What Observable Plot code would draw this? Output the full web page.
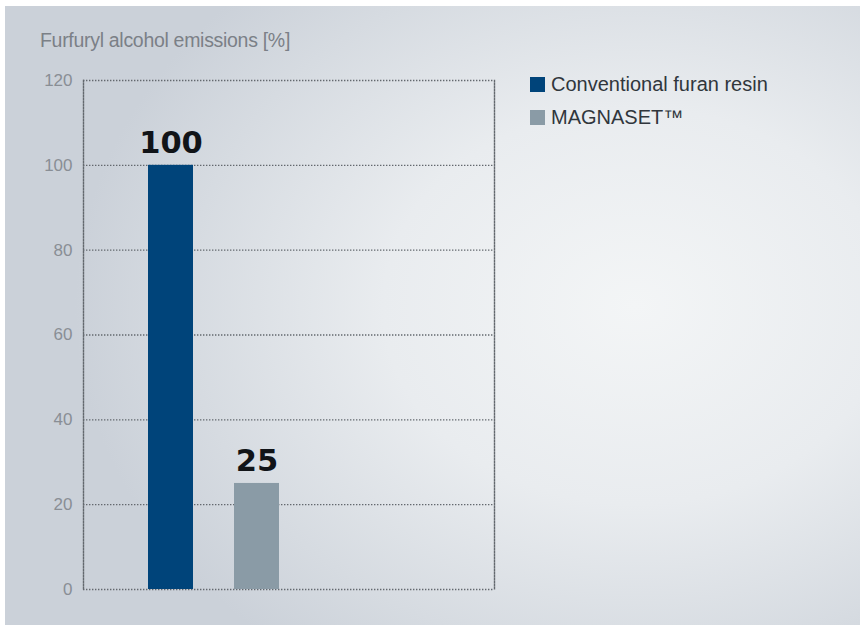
<!DOCTYPE html>
<html>
<head>
<meta charset="utf-8">
<script src="https://cdn.jsdelivr.net/npm/d3@7"></script>
<script src="https://cdn.jsdelivr.net/npm/@observablehq/plot@0.6"></script>
<style>
  html, body { margin: 0; padding: 0; background: #ffffff; overflow: hidden; }
  #wrap { position: relative; width: 860px; height: 625px; overflow: hidden; background: #ffffff; }
  #bg { position: absolute; left: 5px; top: 6px; right: 0; bottom: 0;
        background: radial-gradient(ellipse 560px 440px at 630px 300px, #f3f5f6 0%, #e9ecef 45%, #d6dbe1 80%, #cbd1d9 100%); }
  #title { position: absolute; left: 40px; top: 29px; font-family: "Liberation Sans", Arial, sans-serif;
           font-size: 19.5px; color: #7b8087; letter-spacing: -0.3px; }
  #legend { position: absolute; left: 530px; top: 68px; font-family: "Liberation Sans", Arial, sans-serif;
            font-size: 20px; color: #30363c; }
  .li { display: flex; align-items: center; height: 33px; }
  .sw { width: 15px; height: 15px; margin-right: 6px; }
  #chart { position: absolute; left: 0; top: 0; }
</style>
</head>
<body>
<div id="wrap">
  <div id="bg"></div>
  <div id="title"></div>
  <div id="legend"></div>
  <div id="chart"></div>
</div>
<script>
const categories = ["Conventional furan resin", "MAGNASET™"];
const values = [100, 25];
const colors = ["#00447a", "#8a9ba6"];
const yTicks = [0, 20, 40, 60, 80, 100, 120];
const titleText = "Furfuryl alcohol emissions [%]";

const data = categories.map((c, i) => ({category: c, value: values[i], color: colors[i]}));

document.getElementById("title").textContent = titleText;
const legend = document.getElementById("legend");
data.forEach(d => {
  const row = document.createElement("div");
  row.className = "li";
  const sw = document.createElement("div");
  sw.className = "sw";
  sw.style.background = d.color;
  const t = document.createElement("span");
  t.textContent = d.category;
  row.appendChild(sw);
  row.appendChild(t);
  legend.appendChild(row);
});

const dotted = {stroke: "#63686e", strokeWidth: 1.4, strokeDasharray: "1.4,1.6"};

const chart = Plot.plot({
  width: 860,
  height: 625,
  marginLeft: 83,
  marginRight: 366,
  marginTop: 80,
  marginBottom: 36,
  style: {background: "transparent", fontFamily: "Liberation Sans, Arial, sans-serif", fontSize: "17px", overflow: "visible"},
  x: {domain: categories, range: [127.5, 299.5], paddingInner: 0.477, paddingOuter: 0.2385, axis: null},
  y: {domain: [0, 120], ticks: yTicks, label: null, axis: null},
  marks: [
    Plot.ruleY(yTicks, dotted),
    Plot.frame({...dotted, anchor: "left"}),
    Plot.frame({...dotted, anchor: "right"}),
    Plot.barY(data, {x: "category", y: "value", fill: "color"}),
    Plot.text(data, {x: "category", y: "value", text: d => String(d.value), lineAnchor: "bottom", dy: -12,
      fontSize: 30.5, fontWeight: "bold", fill: "#111418", fontFamily: "DejaVu Sans, sans-serif"}),
    Plot.axisY({ticks: yTicks, tickSize: 0, tickPadding: 11, fontSize: 17, fill: "#898e95", label: null})
  ]
});
document.getElementById("chart").appendChild(chart);
</script>
</body>
</html>
